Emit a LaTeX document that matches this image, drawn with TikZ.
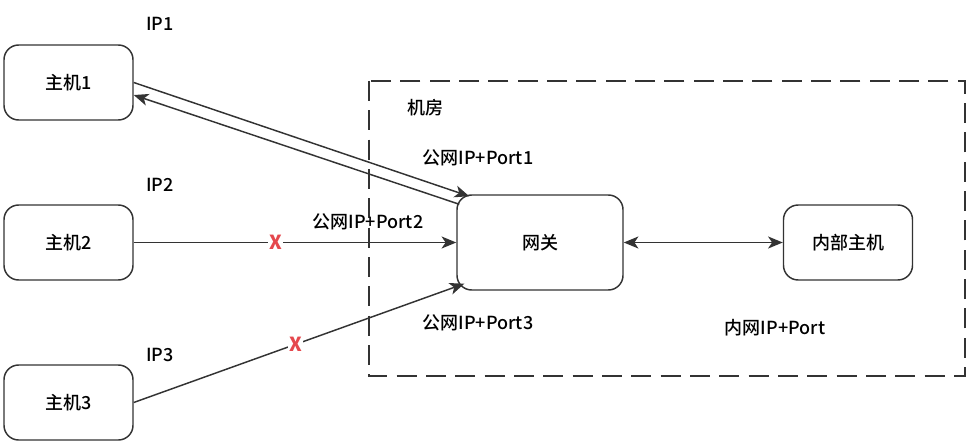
\documentclass[tikz,border=0pt]{standalone}
\usepackage{fontspec}
\setmainfont{Noto Sans CJK SC}[UprightFont={* Medium}]
\usetikzlibrary{arrows.meta,
                positioning
            }
\definecolor{linegray}{HTML}{333333}
\definecolor{xred}{HTML}{E5484D}
\tikzset{
    hostbox/.style={draw=linegray, line width=1.1pt, rounded corners=11pt,
                    minimum width=96.75pt, minimum height=56.25pt},
    gatebox/.style={hostbox, minimum width=124.5pt, minimum height=71.25pt},
    link/.style={draw=linegray, line width=1.1pt, -{Stealth[length=11pt,width=9pt,inset=3pt]}},
    twolink/.style={link, {Stealth[length=11pt,width=9pt,inset=3pt]}-{Stealth[length=11pt,width=9pt,inset=3pt]}},
    cross/.style={fill=white, text=xred, inner sep=1pt, font=\fontsize{14.5}{16}\selectfont\bfseries},
    tag/.style={inner sep=0pt}
}

\begin{document}
\begin{tikzpicture}[x=0.75pt, y=-0.75pt, font=\fontsize{13.5}{16}\selectfont, text=black]
            \useasboundingbox (0,0) rectangle (966,442);
            % the room
            \draw[linegray, line width=1.1pt, dash pattern=on 15pt off 7pt] (369,81) rectangle (965,376);
            \node[tag] (room) at (425,108) {机房};

            \node[hostbox] (h1) at (68.5,82.5) {主机1};
            \node[hostbox] (h2) at (68.5,242.5) {主机2};
            \node[hostbox] (h3) at (68.5,402.5) {主机3};
            \node[gatebox] (gw) at (540,242.5) {网关};
            \node[hostbox] (inner) at (848,242.5) {内部主机};

            \node[tag] (ip1) at (160,24) {IP1};
            \node[tag] (ip2) at (160,185) {IP2};
            \node[tag] (ip3) at (160,355) {IP3};
            \node[tag] (port1) at (478,158) {公网IP+Port1};
            \node[tag] (port2) at (368,222) {公网IP+Port2};
            \node[tag] (port3) at (478,323) {公网IP+Port3};
            \node[tag] (lan) at (775,328) {内网IP+Port};

            \draw[link] (h1.east) -- ([xshift=9.75pt, yshift=-1.5pt]gw.north west);
            \draw[link] ([xshift=2.25pt, yshift=-7.5pt]gw.north west) -- ([yshift=-9.4pt]h1.east);
            \draw[link] (h2.east) -- node[cross, pos=0.44] (x2) {X} (gw.west);
            \draw[link] (h3.east) -- node[cross, pos=0.49] (x3) {X} ([xshift=6pt, yshift=5.25pt]gw.south west);
            \draw[twolink] (gw.east) -- (inner.west);
        \end{tikzpicture}
\end{document}
